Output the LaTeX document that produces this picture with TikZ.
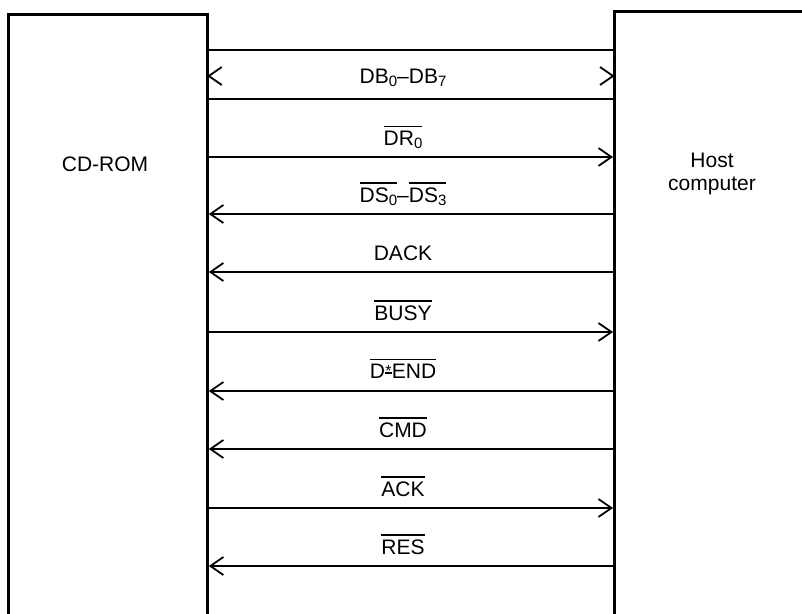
\documentclass[tikz,border=0pt]{standalone}
\usepackage{fontspec}
\setmainfont{Liberation Sans}
\usetikzlibrary{arrows.meta}
\newcommand\ovl[1]{\vbox{\hrule height 1.4pt\kern 3.5pt\hbox{#1}}}
\newcommand\sbs[1]{\raisebox{-3.5pt}{\fontsize{15}{15}\selectfont #1}}
\newcommand\stardash{\makebox[7pt]{\rlap{\rule[4.5pt]{7pt}{1.4pt}}\raisebox{1.5pt}{\fontsize{16}{16}\selectfont *}}}
\tikzset{
  box/.style={draw, line width=2.8pt, anchor=north west, inner sep=0pt},
  sig/.style={line width=1.8pt},
  toL/.style={sig, {Straight Barb[length=13pt,width=18pt]}-},
  toR/.style={sig, -{Straight Barb[length=13pt,width=18pt]}},
  lab/.style={anchor=base, inner sep=0pt, font=\fontsize{21}{22}\selectfont},
  boxlabel/.style={anchor=center, inner sep=0pt, align=center, font=\fontsize{21}{23}\selectfont},
}
\begin{document}
\begin{tikzpicture}[x=1pt,y=-1pt]
\useasboundingbox[fill=white] (0,0) rectangle (802,613);
% boxes
\node[box, minimum width=199pt, minimum height=660pt] (cd) at (7,13) {};
\node[box, minimum width=260pt, minimum height=660pt] (host) at (613,10) {};
\node[boxlabel] (cdl) at (105,164) {CD-ROM};
\node[boxlabel] (hl) at (712,174) {Host\\computer};
% data bus
\coordinate (busLt) at (cd.east |- 0,50);
\coordinate (busRt) at (host.west |- 0,50);
\coordinate (busLb) at (cd.east |- 0,99);
\coordinate (busRb) at (host.west |- 0,99);
\coordinate (busL) at (cd.east |- 0,76);
\coordinate (busR) at (host.west |- 0,76);
\draw[sig] (busLt) -- (busRt);
\draw[sig] (busLb) -- (busRb);
\draw[sig, line join=miter] ([shift={(13,-9)}]busL) -- (busL) -- ([shift={(13,9)}]busL);
\draw[sig, line join=miter] ([shift={(-13,-9)}]busR) -- (busR) -- ([shift={(-13,9)}]busR);
\node[lab] (tdb) at (403,83) {DB\sbs{0}–DB\sbs{7}};
% signal lines
\coordinate (a1) at (cd.east |- 0,157);  \coordinate (b1) at (host.west |- 0,157);
\coordinate (a2) at (cd.east |- 0,214);  \coordinate (b2) at (host.west |- 0,214);
\coordinate (a3) at (cd.east |- 0,272);  \coordinate (b3) at (host.west |- 0,272);
\coordinate (a4) at (cd.east |- 0,332);  \coordinate (b4) at (host.west |- 0,332);
\coordinate (a5) at (cd.east |- 0,391);  \coordinate (b5) at (host.west |- 0,391);
\coordinate (a6) at (cd.east |- 0,449);  \coordinate (b6) at (host.west |- 0,449);
\coordinate (a7) at (cd.east |- 0,508);  \coordinate (b7) at (host.west |- 0,508);
\coordinate (a8) at (cd.east |- 0,566);  \coordinate (b8) at (host.west |- 0,566);
\draw[toR] (a1) -- (b1);
\draw[toL] (a2) -- (b2);
\draw[toL] (a3) -- (b3);
\draw[toR] (a4) -- (b4);
\draw[toL] (a5) -- (b5);
\draw[toL] (a6) -- (b6);
\draw[toR] (a7) -- (b7);
\draw[toL] (a8) -- (b8);
\node[lab] (t1) at (403,145) {\ovl{DR\sbs{0}}};
\node[lab] (t2) at (403,202) {\ovl{DS\sbs{0}}–\ovl{DS\sbs{3}}};
\node[lab] (t3) at (403,260) {DACK};
\node[lab] (t4) at (403,320) {\ovl{BUSY}};
\node[lab] (t5) at (403,378) {\ovl{D\stardash END}};
\node[lab] (t6) at (403,437) {\ovl{CMD}};
\node[lab] (t7) at (403,496) {\ovl{ACK}};
\node[lab] (t8) at (403,554) {\ovl{RES}};
\end{tikzpicture}
\end{document}
